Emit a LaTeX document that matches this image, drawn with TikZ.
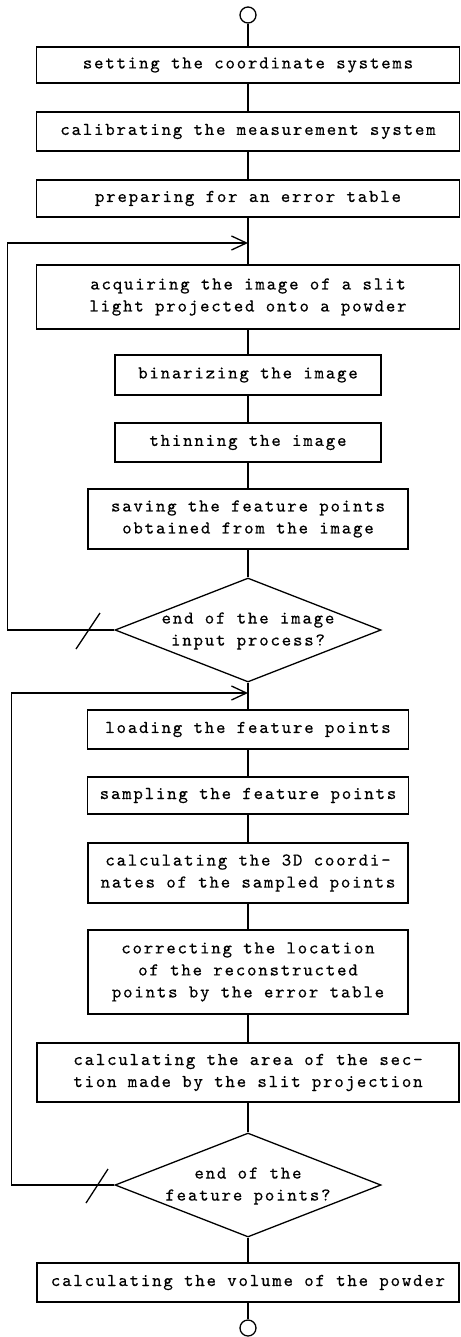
\documentclass[tikz,border=0pt]{standalone}
\usepackage{fontspec}
\newfontfamily\tw{lmmono10-regular}[Extension=.otf, LetterSpace=10, FakeBold=0.4]
\usetikzlibrary{arrows.meta,shapes.geometric}
\begin{document}
\begin{tikzpicture}[x=1pt,y=-1pt,line width=1.3pt,
  txt/.style={inner sep=0pt, align=center, font=\tw\fontsize{18}{22}\selectfont},
  box/.style={txt, draw, rectangle},
  dec/.style={draw, diamond, inner sep=0pt, minimum width=266pt, minimum height=104pt},
  term/.style={draw, circle, inner sep=0pt, minimum size=16pt},
  loopar/.style={-{Straight Barb[length=15pt,width=14pt,line width=1.3pt]}}]
\useasboundingbox (0,0) rectangle (460,1337);
\node[term] (start) at (248,15) {};
\node[box, minimum width=423pt, minimum height=36pt] (b1) at (248,65) {setting the coordinate systems};
\node[box, minimum width=423pt, minimum height=39pt] (b2) at (248,131.5) {calibrating the measurement system};
\node[box, minimum width=423pt, minimum height=37pt] (b3) at (248,198.5) {preparing for an error table};
\node[box, minimum width=423pt, minimum height=64pt] (b4) at (248,297) {acquiring the image of a slit\\light projected onto a powder};
\node[box, minimum width=266pt, minimum height=40pt] (b5) at (248,375) {binarizing the image};
\node[box, minimum width=266pt, minimum height=39pt] (b6) at (248,442.5) {thinning the image};
\node[box, minimum width=320pt, minimum height=60pt] (b7) at (248,519) {saving the feature points\\obtained from the image};
\node[dec] (d1) at (248,630) {};
\node[txt] (t1) at (248,631) {end of the image\\input process?};
\node[box, minimum width=321pt, minimum height=39pt] (b8) at (248,729.5) {loading the feature points};
\node[box, minimum width=321pt, minimum height=37pt] (b9) at (248,795.5) {sampling the feature points};
\node[box, minimum width=320pt, minimum height=60pt] (b10) at (248,873) {calculating the 3D coordi-\\nates of the sampled points};
\node[box, minimum width=320pt, minimum height=84pt] (b11) at (248,972) {correcting the location\\of the reconstructed\\points by the error table};
\node[box, minimum width=422pt, minimum height=59pt] (b12) at (248,1072.5) {calculating the area of the sec-\\tion made by the slit projection};
\node[dec] (d2) at (248,1185) {};
\node[txt] (t2) at (248,1186) {end of the\\feature points?};
\node[box, minimum width=422pt, minimum height=39pt] (b13) at (248,1282.5) {calculating the volume of the powder};
\node[term] (stop) at (248,1328) {};
\coordinate (j1) at (248,243);
\coordinate (j2) at (248,693);
\draw (start) -- (b1);
\draw (b1) -- (b2);
\draw (b2) -- (b3);
\draw (b3) -- (b4);
\draw (b4) -- (b5);
\draw (b5) -- (b6);
\draw (b6) -- (b7);
\draw (b7) -- (d1);
\draw (d1) -- (b8);
\draw (b8) -- (b9);
\draw (b9) -- (b10);
\draw (b10) -- (b11);
\draw (b11) -- (b12);
\draw (b12) -- (d2);
\draw (d2) -- (b13);
\draw (b13) -- (stop);
\draw[loopar] (d1.west) -- ++(-107,0) |- (j1);
\draw[loopar] (d2.west) -- ++(-103,0) |- (j2);
\draw (76,649) -- (100,613);
\draw (86,1203) -- (108,1169);
\end{tikzpicture}
\end{document}
